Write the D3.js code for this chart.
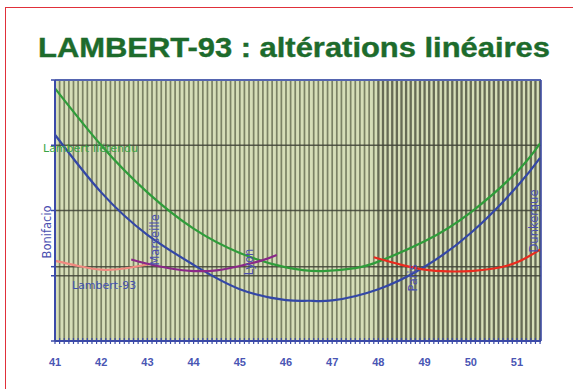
<!DOCTYPE html>
<html><head><meta charset="utf-8">
<script src="https://cdn.jsdelivr.net/npm/d3@7"></script>
<style>html,body{margin:0;padding:0;background:#fff;}svg{display:block;}</style>
</head><body>
<svg id="c" width="573" height="389"></svg>
<script>
const title = "LAMBERT-93 : altérations linéaires";
const xTicks = [41,42,43,44,45,46,47,48,49,50,51];
const yGrid = [-205,-25,155,335,515];
// Lambert-93 (cm/km)
const l93Lat = [41,42,43,44,45,46,46.5,47,48,49,50,51,51.5];
const l93Val = [364,205,88,5,-62,-92,-94,-93,-62,0,93,221,300];
// Lambert II étendu
const l2eLat = [41,42,43,44,45,46,46.8,47.5,48,49,50,51,51.5];
const l2eVal = [492,335,205,105,38,-2,-12,-4,14,70,150,262,340];
// conic zones
const z1Lat = [41,41.5,42,42.5,43,43.1];
const z1Val = [16,2,-8,-5,6,9];
const z2Lat = [42.65,43,43.5,44,44.5,45,45.5,45.8];
const z2Val = [20,8,-5,-12,-10,2,18,32];
const z3Lat = [47.9,48.5,49,49.5,50,50.5,51,51.5];
const z3Val = [26,5,-8,-13,-12,-5,12,47];
const cities = ["Bonifacio","Marseille","Lyon","Paris","Dunkerque"];
const cityLat = [40.83,43.16,45.2,48.75,51.37];
const cityVal = [96,74,13,-31,126];

const svg = d3.select("#c");
const W=573,H=389;
const m = {l:55,r:541,t:80,b:341};
const x = d3.scaleLinear().domain([41,51.52]).range([m.l,m.r]);
const y = d3.scaleLinear().domain([-205,515]).range([m.b,m.t]);
const FONT = "DejaVu Sans, Verdana, sans-serif";

svg.append("rect").attr("x",5.5).attr("y",7.5).attr("width",W).attr("height",H)
  .attr("fill","none").attr("stroke","#e0303a").attr("stroke-width",1);

svg.append("text").attr("x",294).attr("y",57).attr("text-anchor","middle")
  .attr("font-family","Liberation Sans, Arial, sans-serif").attr("font-weight","bold")
  .attr("font-size",28).attr("textLength",512).attr("lengthAdjust","spacingAndGlyphs")
  .attr("fill","#1d6b2c").attr("stroke","#1d6b2c").attr("stroke-width",0.4).text(title);

// plot background
svg.append("rect").attr("x",m.l).attr("y",m.t).attr("width",m.r-m.l).attr("height",m.b-m.t)
  .attr("fill","#d6deb8");
const minor = d3.range(410,516,1).map(d=>d/10);
svg.append("g").selectAll("line").data(minor).join("line")
  .attr("x1",d=>x(d)).attr("x2",d=>x(d)).attr("y1",m.t).attr("y2",m.b)
  .attr("stroke",d=>d>=47.95?"#666b55":"#7b8265")
  .attr("stroke-width",d=>d>=47.95?2.3:1.7);

// horizontal grid
svg.append("g").selectAll("line").data(yGrid.concat([0])).join("line")
  .attr("x1",m.l).attr("x2",m.r).attr("y1",d=>y(d)).attr("y2",d=>y(d))
  .attr("stroke","#3f4336").attr("stroke-width",1.6).attr("stroke-opacity",0.85);

// curves
const line = d3.line().x(d=>x(d[0])).y(d=>y(d[1])).curve(d3.curveNatural);
function curve(lat,val,col){
  svg.append("path").datum(d3.zip(lat,val)).attr("d",line)
    .attr("fill","none").attr("stroke",col).attr("stroke-width",2.2);
}
curve(l2eLat,l2eVal,"#2f9c3a");
curve(l93Lat,l93Val,"#3347a6");
curve(z1Lat,z1Val,"#f08a80");
curve(z2Lat,z2Val,"#8a2888");
curve(z3Lat,z3Val,"#ea2a1e");

// axes
const ax = svg.append("g");
ax.append("line").attr("x1",m.l).attr("x2",m.r).attr("y1",m.t).attr("y2",m.t)
  .attr("stroke","#5565b0").attr("stroke-width",2);
ax.append("line").attr("x1",m.r).attr("x2",m.r).attr("y1",m.t).attr("y2",m.b)
  .attr("stroke","#3b4aa8").attr("stroke-width",1.5);
ax.append("line").attr("x1",m.l).attr("x2",m.l).attr("y1",m.t).attr("y2",m.b)
  .attr("stroke","#3b4aa8").attr("stroke-width",2);
ax.append("g").selectAll("line").data(yGrid.concat([0])).join("line")
  .attr("x1",m.l-4).attr("x2",m.l).attr("y1",d=>y(d)).attr("y2",d=>y(d))
  .attr("stroke","#3b4aa8").attr("stroke-width",1.5);
ax.append("line").attr("x1",m.l).attr("x2",m.r).attr("y1",m.b).attr("y2",m.b)
  .attr("stroke","#3b4aa8").attr("stroke-width",2);
ax.append("g").selectAll("line").data(minor).join("line")
  .attr("x1",d=>x(d)).attr("x2",d=>x(d)).attr("y1",m.b-3).attr("y2",m.b+3)
  .attr("stroke","#3b4aa8").attr("stroke-width",1.2);
ax.append("g").selectAll("text").data(xTicks).join("text")
  .attr("x",d=>x(d)).attr("y",366).attr("text-anchor","middle")
  .attr("font-family","Liberation Sans, Arial, sans-serif").attr("font-weight","bold")
  .attr("font-size",11).attr("fill","#4a56b4").text(d=>d);

// labels
svg.append("text").attr("x",43).attr("y",152)
  .attr("font-family",FONT).attr("font-size",11)
  .attr("fill","#3aa444").text("Lambert IIétendu");
svg.append("text").attr("x",72).attr("y",289)
  .attr("font-family",FONT).attr("font-size",11)
  .attr("fill","#4452b0").text("Lambert-93");
svg.append("g").selectAll("text").data(cities).join("text")
  .attr("transform",(d,i)=>`translate(${x(cityLat[i])},${y(cityVal[i])}) rotate(-90)`)
  .attr("text-anchor","middle").attr("dy","0.35em")
  .attr("font-family",FONT).attr("font-size",11.5)
  .attr("fill","#4a4fb0").text(d=>d);
</script>
</body></html>
